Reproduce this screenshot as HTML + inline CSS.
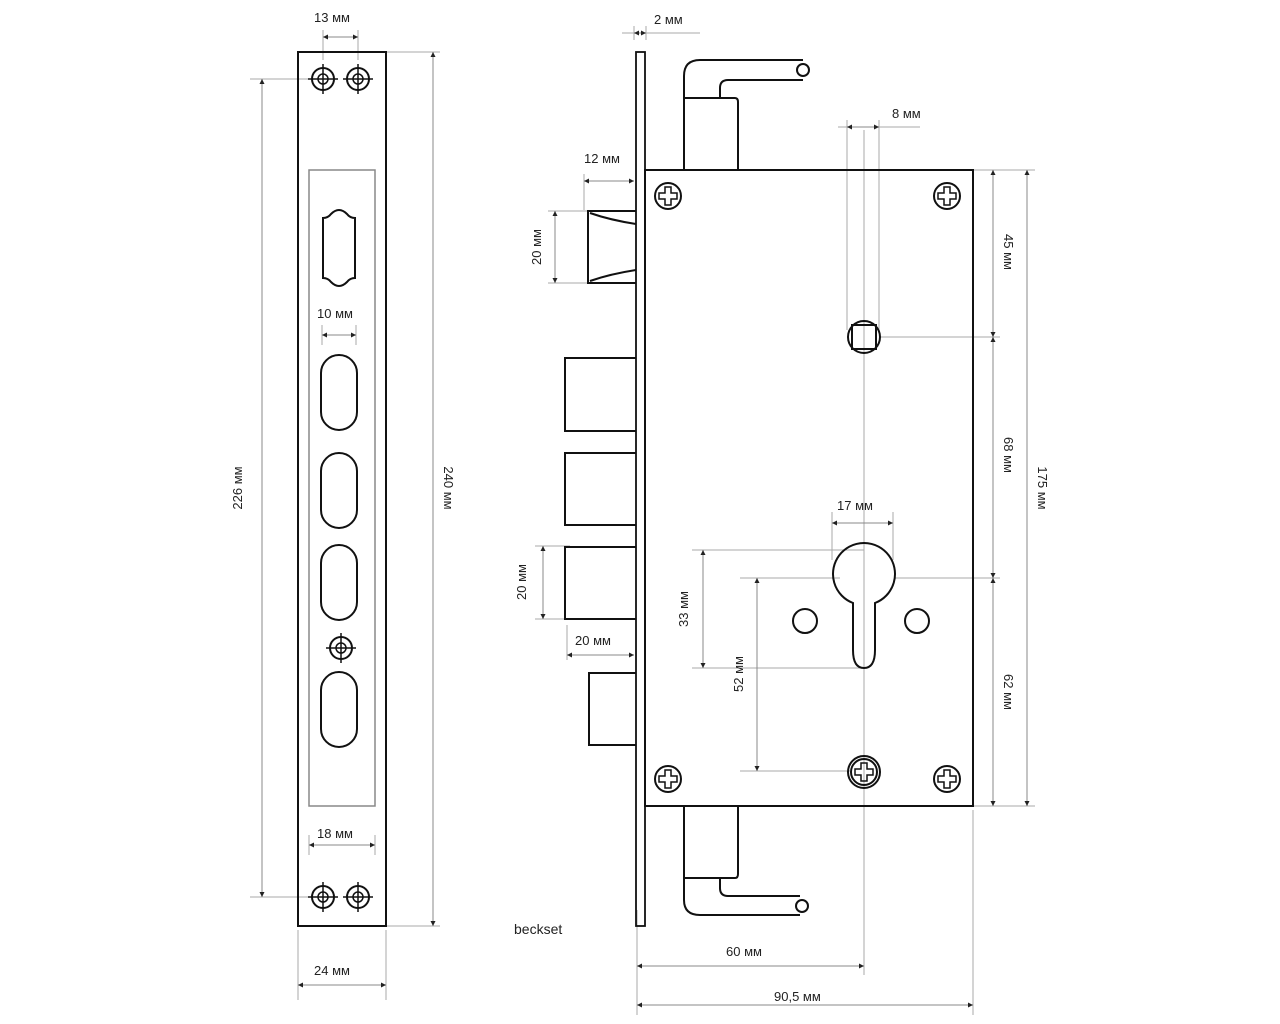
<!DOCTYPE html>
<html><head><meta charset="utf-8"><style>html,body{margin:0;padding:0;background:#fff}svg{display:block}</style></head>
<body>
<svg width="1280" height="1024" viewBox="0 0 1280 1024" xmlns="http://www.w3.org/2000/svg" font-family="Liberation Sans, DejaVu Sans, sans-serif" font-size="13" fill="none">
<defs>
<g id="scr"><circle r="11" stroke="#111" stroke-width="2"/><circle r="5" stroke="#111" stroke-width="1.5"/><path d="M-15 0H15M0-15V15" stroke="#111" stroke-width="1.5"/></g>
<g id="ph"><circle r="13" stroke="#111" stroke-width="2"/><path d="M-3-9h6v6h6v6h-6v6h-6v-6h-6v-6h6z" stroke="#111" stroke-width="1.5"/></g>
<marker id="a" viewBox="0 0 6 6" refX="6" refY="3" markerWidth="5" markerHeight="5" orient="auto-start-reverse"><path d="M0 0L6 3L0 6z" fill="#222"/></marker>
</defs>
<g stroke="#aaa" stroke-width="1">
<path d="M323 30V60M358 30V60"/>
<path d="M250 79H310M250 897H310"/>
<path d="M386 52H440M386 926H440"/>
<path d="M322 325V345M356 325V345"/>
<path d="M309 835V855M375 835V855"/>
<path d="M298 930V1000M386 930V1000"/>
<path d="M634 26V40M646 26V40M646 33H700M622 33H634"/>
<path d="M584 174V210"/>
<path d="M548 211H600M548 283H600"/>
<path d="M535 546H570M535 619H570"/>
<path d="M567 625V660"/>
<path d="M847 120V330M879 120V330M879 127H920M838 127H847"/>
<path d="M864 130V975"/>
<path d="M973 170H1035M880 337H1000M895 578H1000M973 806H1035"/>
<path d="M832 512V560M893 512V560"/>
<path d="M692 550H864M692 668H864"/>
<path d="M740 578H840M740 771H850"/>
<path d="M637 910V1015M973 810V1015"/>
</g>
<g stroke="#888" stroke-width="1" marker-start="url(#a)" marker-end="url(#a)">
<path d="M323 37H358"/>
<path d="M262 79V897"/>
<path d="M433 52V926"/>
<path d="M322 335H356"/>
<path d="M309 845H375"/>
<path d="M298 985H386"/>
<path d="M634 33H646"/>
<path d="M584 181H634"/>
<path d="M555 211V283"/>
<path d="M543 546V619"/>
<path d="M567 655H634"/>
<path d="M847 127H879"/>
<path d="M993 170V337"/><path d="M993 337V578"/><path d="M993 578V806"/>
<path d="M1027 170V806"/>
<path d="M832 523H893"/>
<path d="M703 550V668"/>
<path d="M757 578V771"/>
<path d="M637 966H864"/>
<path d="M637 1005H973"/>
</g>
<g fill="#222">
<text x="314" y="22">13 мм</text>
<text x="317" y="318">10 мм</text>
<text x="317" y="838">18 мм</text>
<text x="314" y="975">24 мм</text>
<text transform="translate(242,488) rotate(-90)" text-anchor="middle">226 мм</text>
<text transform="translate(444,488) rotate(90)" text-anchor="middle">240 мм</text>
<text x="654" y="24">2 мм</text>
<text x="584" y="163">12 мм</text>
<text transform="translate(541,247) rotate(-90)" text-anchor="middle">20 мм</text>
<text transform="translate(526,582) rotate(-90)" text-anchor="middle">20 мм</text>
<text x="575" y="645">20 мм</text>
<text x="892" y="118">8 мм</text>
<text transform="translate(1004,252) rotate(90)" text-anchor="middle">45 мм</text>
<text transform="translate(1004,455) rotate(90)" text-anchor="middle">68 мм</text>
<text transform="translate(1004,692) rotate(90)" text-anchor="middle">62 мм</text>
<text transform="translate(1038,488) rotate(90)" text-anchor="middle">175 мм</text>
<text x="837" y="510">17 мм</text>
<text transform="translate(688,609) rotate(-90)" text-anchor="middle">33 мм</text>
<text transform="translate(743,674) rotate(-90)" text-anchor="middle">52 мм</text>
<text x="726" y="956">60 мм</text>
<text x="774" y="1001">90,5 мм</text>
<text x="514" y="934" font-size="14">beckset</text>
</g>
<rect x="298" y="52" width="88" height="874" stroke="#111" stroke-width="2"/>
<rect x="309" y="170" width="66" height="636" stroke="#888" stroke-width="1.5"/>
<use href="#scr" x="323" y="79"/><use href="#scr" x="358" y="79"/>
<use href="#scr" x="323" y="897"/><use href="#scr" x="358" y="897"/>
<use href="#scr" x="341" y="648"/>
<path d="M323 218Q328 218 331 214Q335 210 339 210Q343 210 347 214Q350 218 355 218V278Q350 278 347 282Q343 286 339 286Q335 286 331 282Q328 278 323 278Z" stroke="#111" stroke-width="2"/>
<g stroke="#111" stroke-width="2">
<rect x="321" y="355" width="36" height="75" rx="18"/>
<rect x="321" y="453" width="36" height="75" rx="18"/>
<rect x="321" y="545" width="36" height="75" rx="18"/>
<rect x="321" y="672" width="36" height="75" rx="18"/>
</g>
<g stroke="#111" stroke-width="2">
<rect x="636" y="52" width="9" height="874" stroke-width="1.8"/>
<rect x="645" y="170" width="328" height="636"/>
<path d="M684 170V98H735Q738 98 738 102V170"/>
<path d="M684 98V76Q684 60 700 60H803"/>
<path d="M720 98V88Q720 80 728 80H803"/>
<circle cx="803" cy="70" r="6"/>
<path d="M684 806V878H735Q738 878 738 874V806"/>
<path d="M684 878V900Q684 915 700 915H800"/>
<path d="M720 878V888Q720 896 728 896H800"/>
<circle cx="802" cy="906" r="6"/>
<path d="M636 211H588V283H636M590 213Q610 220 636 224M590 281Q610 274 636 270"/>
<path d="M636 358H565V431H636M636 453H565V525H636M636 547H565V619H636M636 673H589V745H636"/>
<circle cx="864" cy="337" r="16"/>
<rect x="852" y="325" width="24" height="24"/>
<path d="M853 603A31 31 0 1 1 875 603V650Q875 668 864 668Q853 668 853 650Z"/>
<circle cx="805" cy="621" r="12"/><circle cx="917" cy="621" r="12"/>
</g>
<use href="#ph" x="668" y="196"/><use href="#ph" x="947" y="196"/>
<use href="#ph" x="668" y="779"/><use href="#ph" x="947" y="779"/>
<circle cx="864" cy="772" r="16" stroke="#111" stroke-width="2"/>
<use href="#ph" x="864" y="772"/>
</svg>
</body></html>
